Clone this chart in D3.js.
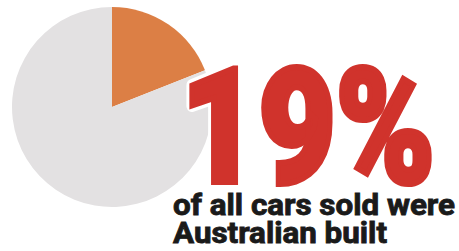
<!DOCTYPE html>
<html>
<head>
<meta charset="utf-8">
<script src="https://cdn.jsdelivr.net/npm/d3@7"></script>
<style>
  html, body { margin: 0; padding: 0; background: #fff; }
</style>
</head>
<body>
<script>
const WIDTH = 459;
const HEIGHT = 251;

// share of cars sold: Australian built vs the rest
const categories = ["Australian built", "Other"];
const shares = [19, 81];
const colors = ["#dc7f45", "#e3e1e2"];

const headline = "19%";
const captionLines = ["of all cars sold were", "Australian built"];

const svg = d3.select("body")
  .append("svg")
  .attr("width", WIDTH)
  .attr("height", HEIGHT)
  .attr("xmlns", "http://www.w3.org/2000/svg");

const cx = 112, cy = 107, radius = 100;

const pie = d3.pie().sort(null).value((d) => d.value);
const arc = d3.arc().innerRadius(0).outerRadius(radius);
const data = categories.map((c, i) => ({ name: c, value: shares[i], color: colors[i] }));

svg.append("g")
  .attr("transform", `translate(${cx},${cy})`)
  .selectAll("path")
  .data(pie(data))
  .join("path")
  .attr("d", arc)
  .attr("fill", (d) => d.data.color);

// big number: white halo underneath, then a red stroke to make it heavier
const big = svg.append("g")
  .attr("font-family", "Roboto, 'Liberation Sans', sans-serif")
  .attr("font-weight", 900)
  .attr("font-size", 160);

[{ stroke: "#fff", w: 13, join: "round" }, { stroke: "#d0332c", w: 6, join: "miter" }].forEach((s) => {
  big.append("text")
    .attr("x", 181)
    .attr("y", 182)
    .attr("textLength", 254)
    .attr("lengthAdjust", "spacingAndGlyphs")
    .attr("fill", "#d0332c")
    .attr("stroke", s.stroke)
    .attr("stroke-width", s.w)
    .attr("stroke-linejoin", s.join)
    .text(headline);
});

const captionWidths = [282, 214];
svg.append("g")
  .selectAll("text")
  .data(captionLines)
  .join("text")
  .attr("x", 173)
  .attr("y", (d, i) => 215 + i * 28)
  .attr("textLength", (d, i) => captionWidths[i])
  .attr("lengthAdjust", "spacingAndGlyphs")
  .attr("font-family", "Roboto, 'Liberation Sans', sans-serif")
  .attr("font-weight", 700)
  .attr("font-size", 30)
  .attr("fill", "#1a1a1a")
  .attr("stroke", "#1a1a1a")
  .attr("stroke-width", 0.9)
  .text((d) => d);
</script>
</body>
</html>
